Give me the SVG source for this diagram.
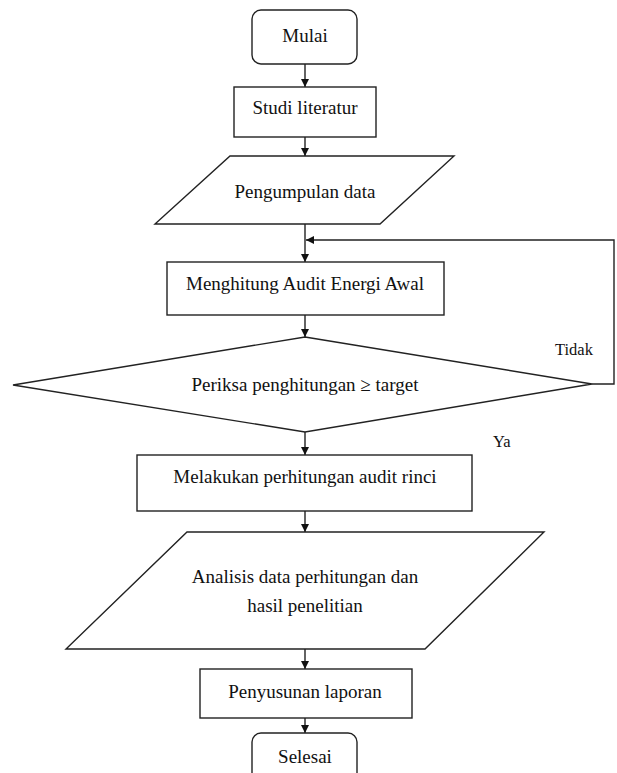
<svg xmlns="http://www.w3.org/2000/svg" width="617" height="773" viewBox="0 0 617 773">
<style>
.s{fill:#fff;stroke:#222;stroke-width:1.4}
text{font-family:"Liberation Serif",serif}
.t{font-size:19px;fill:#111;text-anchor:middle}
.l{font-size:16.5px;fill:#111}
.c{fill:none;stroke:#222;stroke-width:1.4}
</style>
<defs>
<marker id="a" viewBox="0 0 10 10" refX="10" refY="5" markerWidth="8" markerHeight="8" markerUnits="userSpaceOnUse" orient="auto">
<path d="M0,0 L10,5 L0,10 Z" fill="#111"/>
</marker>
</defs>
<rect width="617" height="773" fill="#fff"/>
<g id="connectors">
<line class="c" x1="305" y1="64" x2="305" y2="87" marker-end="url(#a)"/>
<line class="c" x1="305" y1="137" x2="305" y2="156" marker-end="url(#a)"/>
<line class="c" x1="305" y1="224" x2="305" y2="262" marker-end="url(#a)"/>
<line class="c" x1="305" y1="315" x2="305" y2="337" marker-end="url(#a)"/>
<line class="c" x1="305" y1="432" x2="305" y2="455" marker-end="url(#a)"/>
<line class="c" x1="305" y1="511" x2="305" y2="532" marker-end="url(#a)"/>
<line class="c" x1="305" y1="649" x2="305" y2="669" marker-end="url(#a)"/>
<line class="c" x1="305" y1="718" x2="305" y2="733" marker-end="url(#a)"/>
<polyline class="c" points="592,384 614,384 614,240 306,240" marker-end="url(#a)"/>
<text class="l" x="555" y="355" font-family="Liberation Serif">Tidak</text>
<text class="l" x="493" y="447" font-family="Liberation Serif">Ya</text>
</g>
<g id="mulai">
<rect class="s" x="252" y="10" width="105" height="54" rx="9"/>
<text class="t" x="305" y="42" font-family="Liberation Serif">Mulai</text>
</g>
<g id="studi">
<rect class="s" x="234" y="87" width="142" height="50"/>
<text class="t" x="305" y="114" font-family="Liberation Serif">Studi literatur</text>
</g>
<g id="pengumpulan">
<polygon class="s" points="230,156 454,156 380,224 155,224"/>
<text class="t" x="305" y="198" font-family="Liberation Serif" font-size="19.5">Pengumpulan data</text>
</g>
<g id="menghitung">
<rect class="s" x="167" y="262" width="277" height="53"/>
<text class="t" x="305" y="290" font-family="Liberation Serif">Menghitung Audit Energi Awal</text>
</g>
<g id="periksa">
<polygon class="s" points="305,337 592,384 305,432 13,385"/>
<text class="t" x="305" y="391" font-family="Liberation Serif">Periksa penghitungan ≥ target</text>
</g>
<g id="melakukan">
<rect class="s" x="137" y="455" width="335" height="56"/>
<text class="t" x="305" y="483" font-family="Liberation Serif">Melakukan perhitungan audit rinci</text>
</g>
<g id="analisis">
<polygon class="s" points="187,532 544,532 425,649 66,649"/>
<text class="t" x="305" y="583" font-family="Liberation Serif">Analisis data perhitungan dan</text>
<text class="t" x="305" y="612" font-family="Liberation Serif">hasil penelitian</text>
</g>
<g id="penyusunan">
<rect class="s" x="200" y="669" width="212" height="49"/>
<text class="t" x="305" y="698" font-family="Liberation Serif">Penyusunan laporan</text>
</g>
<g id="selesai">
<rect class="s" x="252" y="733" width="105" height="54" rx="9"/>
<text class="t" x="305" y="763" font-family="Liberation Serif">Selesai</text>
</g>
</svg>
